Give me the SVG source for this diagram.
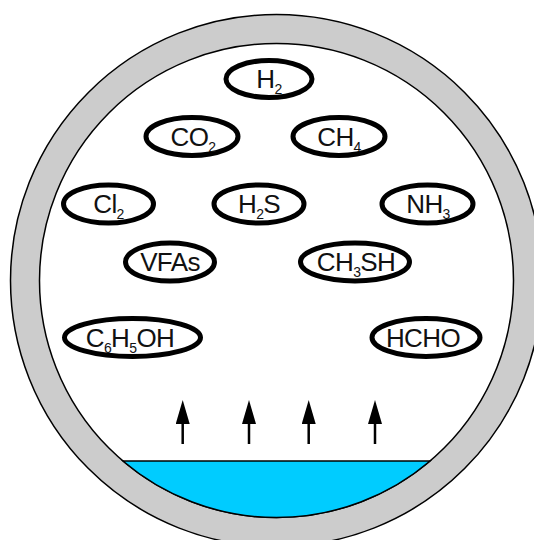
<svg xmlns="http://www.w3.org/2000/svg" width="534" height="540" viewBox="0 0 534 540">
<style>
.gas ellipse{fill:#fff;stroke:#000;stroke-width:5}
.gas text{font-family:"Liberation Sans",Arial,sans-serif;font-size:26px;letter-spacing:-0.6px;fill:#111;text-anchor:middle}
.sub{font-size:14px}
.arrow{stroke:#000;stroke-width:2.5;fill:none;marker-end:url(#ah)}
</style>
<defs>
<marker id="ah" markerUnits="userSpaceOnUse" markerWidth="24" markerHeight="14" refX="1" refY="0" orient="auto" viewBox="0 -7 24 14">
<path d="M0,-7 L24,0 L0,7 Z" fill="#000"/>
</marker>
</defs>
<rect width="534" height="540" fill="#fff"/>
<g id="vessel">
<circle cx="276.5" cy="280.5" r="266" fill="#ccc" stroke="#000" stroke-width="1.5"/>
<circle cx="276.5" cy="280.5" r="237" fill="#fff" stroke="#000" stroke-width="1.5"/>
<path id="liquid" d="M122.9,461 L430.1,461 A237,237 0 0 1 122.9,461 Z" fill="#00ccff" stroke="#000" stroke-width="1.5"/>
</g>
<g id="n-h2" class="gas"><ellipse cx="269" cy="79" rx="43" ry="18.5"/><text x="269" y="88">H<tspan class="sub" dy="6">2</tspan></text></g>
<g id="n-co2" class="gas"><ellipse cx="192" cy="136.5" rx="46" ry="19"/><text x="193" y="145.5">CO<tspan class="sub" dy="6">2</tspan></text></g>
<g id="n-ch4" class="gas"><ellipse cx="339" cy="136.5" rx="46" ry="19"/><text x="339" y="145.5">CH<tspan class="sub" dy="6">4</tspan></text></g>
<g id="n-cl2" class="gas"><ellipse cx="108.5" cy="204" rx="45" ry="19"/><text x="108.5" y="213">Cl<tspan class="sub" dy="6">2</tspan></text></g>
<g id="n-h2s" class="gas"><ellipse cx="259" cy="204" rx="45" ry="19"/><text x="259" y="213">H<tspan class="sub" dy="6">2</tspan><tspan dy="-6">S</tspan></text></g>
<g id="n-nh3" class="gas"><ellipse cx="427.5" cy="204" rx="45.5" ry="19"/><text x="428" y="213">NH<tspan class="sub" dy="6">3</tspan></text></g>
<g id="n-vfas" class="gas"><ellipse cx="170" cy="262" rx="44.5" ry="19"/><text x="170" y="271">VFAs</text></g>
<g id="n-ch3sh" class="gas"><ellipse cx="355" cy="262" rx="54.5" ry="19"/><text x="356" y="271">CH<tspan class="sub" dy="6">3</tspan><tspan dy="-6">SH</tspan></text></g>
<g id="n-c6h5oh" class="gas"><ellipse cx="132.5" cy="337.5" rx="68" ry="19"/><text x="130" y="346.5">C<tspan class="sub" dy="6">6</tspan><tspan dy="-6">H</tspan><tspan class="sub" dy="6">5</tspan><tspan dy="-6">OH</tspan></text></g>
<g id="n-hcho" class="gas"><ellipse cx="426" cy="337.5" rx="54" ry="19"/><text x="423" y="346.5">HCHO</text></g>
<g id="connectors">
<line class="arrow" x1="182.7" y1="444" x2="182.7" y2="423"/>
<line class="arrow" x1="249" y1="444" x2="249" y2="423"/>
<line class="arrow" x1="308.7" y1="444" x2="308.7" y2="423"/>
<line class="arrow" x1="375" y1="444" x2="375" y2="423"/>
</g>
</svg>
